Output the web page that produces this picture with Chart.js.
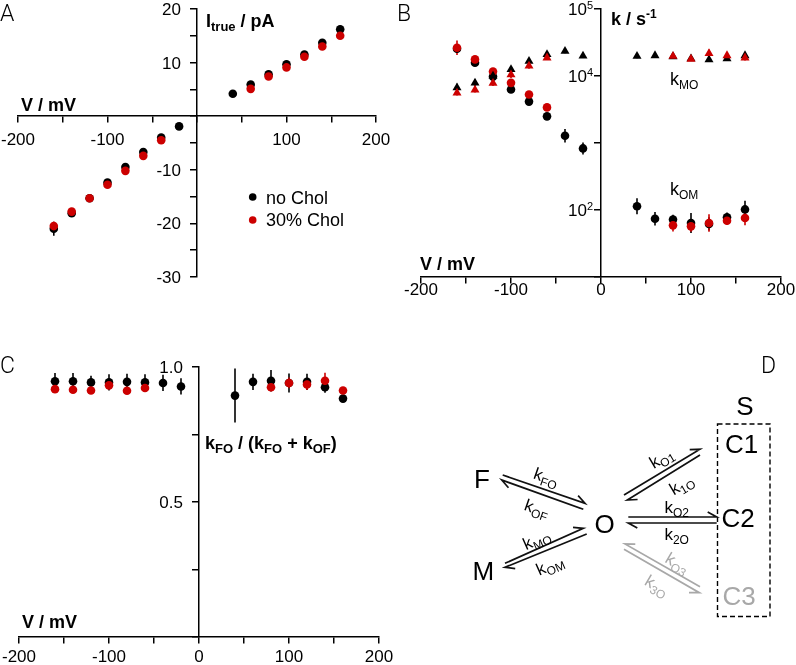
<!DOCTYPE html>
<html><head><meta charset="utf-8">
<script src="https://cdn.jsdelivr.net/npm/chart.js@4.4.1/dist/chart.umd.min.js"></script>
<style>
html,body{margin:0;padding:0;background:#fff;}
#wrap{position:relative;width:796px;height:665px;overflow:hidden;background:#fff;}
canvas{position:absolute;}
svg{position:absolute;left:0;top:0;}
</style></head><body>
<div id="wrap">
<canvas id="cA" width="398" height="320" style="left:0;top:0"></canvas>
<canvas id="cB" width="398" height="320" style="left:398px;top:0"></canvas>
<canvas id="cC" width="398" height="345" style="left:0;top:320px"></canvas>
<svg id="sD" width="796" height="665" xmlns="http://www.w3.org/2000/svg"></svg>
</div>
<script>
// ---------------- DATA ----------------
// Panel A: I_true (pA) vs V (mV)
const vA_noChol = [-160,-140,-120,-100,-80,-60,-40,-20,40,60,80,100,120,140,160];
const iA_noChol = [-21.0,-18.1,-15.3,-12.4,-9.5,-6.7,-4.0,-1.9,4.2,5.9,7.8,9.7,11.5,13.7,16.2];
const eA_noChol = [1.3,0.5,0.4,0.4,0.5,0.4,0.4,0.3,0.3,0.4,0.4,0.4,0.5,0.6,0.7];
const vA_chol = [-160,-140,-120,-100,-80,-60,-40,60,80,100,120,140,160];
const iA_chol = [-20.5,-17.8,-15.3,-12.8,-10.2,-7.4,-4.5,5.1,7.4,9.1,11.1,13.0,15.0];
const eA_chol = [0.8,0.5,0.4,0.4,0.5,0.4,0.3,0.3,0.4,0.4,0.4,0.5,0.5];

// Panel B: rate constants (s^-1) vs V (mV); errors in decades
const vB_noChol = [-160,-140,-120,-100,-80,-60,-40,-20,40,60,80,100,120,140,160];
const kOM_noChol = [25500,15800,9800,6300,4150,2500,1280,830,114,74,72,64,62,78,102];
const eOM_noChol = [0.06,0.05,0.04,0.04,0.04,0.05,0.10,0.09,0.12,0.10,0.07,0.15,0.10,0.07,0.13];
const kMO_noChol = [6700,7900,10000,12500,16700,21000,23500,19900,19800,20200,19500,18100,17500,18100,20200];
const eMO_noChol = [0.06,0.05,0.04,0.04,0.04,0.03,0.03,0.03,0.03,0.03,0.03,0.03,0.03,0.03,0.03];
const vB_chol = [-160,-140,-120,-100,-80,-60,80,100,120,140,160];
const kOM_chol = [26400,17700,11700,7900,5300,3400,59,57,64,69,76];
const eOM_chol = [0.11,0.05,0.05,0.05,0.04,0.04,0.09,0.08,0.13,0.06,0.11];
const kMO_chol = [5600,6200,7800,10500,14100,18700,19800,17900,21700,20200,18700];
const eMO_chol = [0.04,0.04,0.04,0.05,0.04,0.03,0.03,0.03,0.06,0.04,0.04];

// Panel C: kFO/(kFO+kOF) vs V (mV)
const vC_noChol = [-160,-140,-120,-100,-80,-60,-40,-20,40,60,80,100,120,140,160];
const fC_noChol = [0.947,0.947,0.943,0.943,0.945,0.943,0.941,0.928,0.894,0.945,0.949,0.941,0.945,0.925,0.883];
const eC_noChol = [0.031,0.031,0.025,0.03,0.03,0.03,0.03,0.03,0.10,0.03,0.04,0.035,0.03,0.02,0.01];
const vC_chol = [-160,-140,-120,-100,-80,-60,80,100,120,140,160];
const fC_chol = [0.918,0.916,0.913,0.932,0.912,0.922,0.925,0.941,0.935,0.949,0.913];
const eC_chol = [0.012,0.01,0.01,0.012,0.01,0.01,0.015,0.02,0.02,0.03,0.012];

// Tick labels
const xTickLabelsA = [-200,-100,100,200];
const yTickLabelsA = [20,10,-10,-20,-30];
const xTickLabelsBC = [-200,-100,0,100,200];
const yTickExpB = [5,4,2];
const yTickLabelsC = [1.0,0.5];
const seriesNames = ['no Chol','30% Chol'];

// ---------------- STYLE / HELPERS ----------------
const BLACK = '#000000', RED = '#cc0000', GRAY = '#a8a8a8';
const FAM = '"Liberation Sans", Arial, Helvetica, sans-serif';

function pts(xs, ys){ return xs.map((x,i)=>({x:x, y:ys[i]})); }

function drawRich(ctx, x, y, parts, size, bold, color, align, subSize){
  const w = bold ? 'bold ' : '';
  const small = subSize || Math.round(size*0.68);
  let total = 0;
  const segs = parts.map(([t,k]) => {
    const fs = k === 'n' ? size : small;
    ctx.font = w + fs + 'px ' + FAM;
    const wd = ctx.measureText(t).width;
    total += wd;
    return {t, k, fs, wd};
  });
  let cx = align === 'right' ? x - total : (align === 'center' ? x - total/2 : x);
  ctx.save();
  ctx.fillStyle = color; ctx.textBaseline = 'alphabetic'; ctx.textAlign = 'left';
  for (const s of segs){
    ctx.font = w + s.fs + 'px ' + FAM;
    const dy = s.k === 'sub' ? size*0.22 : (s.k === 'sup' ? -size*0.38 : 0);
    ctx.fillText(s.t, cx, y + dy);
    cx += s.wd;
  }
  ctx.restore();
}

const errBars = {
  id:'errBars',
  beforeDatasetsDraw(chart){
    const ctx = chart.ctx, ys = chart.scales.y;
    for (let i = chart.data.datasets.length-1; i >= 0; i--){
      const ds = chart.data.datasets[i];
      if (!ds.errs) continue;
      const meta = chart.getDatasetMeta(i);
      ctx.save(); ctx.strokeStyle = ds.backgroundColor; ctx.lineWidth = 1.6;
      meta.data.forEach((pt, j) => {
        const v = ds.data[j].y, e = ds.errs[j];
        let lo, hi;
        if (ds.logErr){ lo = v/Math.pow(10,e); hi = v*Math.pow(10,e); } else { lo = v-e; hi = v+e; }
        ctx.beginPath();
        ctx.moveTo(pt.x, ys.getPixelForValue(hi));
        ctx.lineTo(pt.x, ys.getPixelForValue(lo));
        ctx.stroke();
      });
      ctx.restore();
    }
  }
};

function annotPlugin(fn){ return { id:'annot'+Math.random().toString(36).slice(2), afterDraw(chart){ fn(chart, chart.ctx); } }; }

function axisOpts(extra){
  return Object.assign({
    ticks:{display:false, autoSkip:false},
    grid:{drawOnChartArea:false, drawTicks:true, tickLength:6, color:BLACK, lineWidth:1.5},
    border:{display:true, color:BLACK, width:1.5}
  }, extra);
}

function dset(label, data, errs, color, style, order, logErr){
  return {label, data, errs, logErr: !!logErr, backgroundColor: color, borderColor: color,
    pointBackgroundColor: color, pointBorderWidth: 0, pointStyle: style,
    pointRadius: style === 'triangle' ? 5.2 : 4.3, order, showLine:false};
}

const common = {responsive:false, animation:false, events:[], plugins:{legend:{display:false}, tooltip:{enabled:false}}};

function tickLabelsX(ctx, chart, vals, baseline){
  const xs = chart.scales.x;
  ctx.save(); ctx.font = '17px ' + FAM; ctx.fillStyle = BLACK; ctx.textAlign = 'center'; ctx.textBaseline = 'alphabetic';
  vals.forEach(v => ctx.fillText(String(v), xs.getPixelForValue(v), baseline));
  ctx.restore();
}
function tickLabelsY(ctx, chart, vals, right, fmt){
  const ys = chart.scales.y;
  ctx.save(); ctx.font = '17px ' + FAM; ctx.fillStyle = BLACK; ctx.textAlign = 'right'; ctx.textBaseline = 'alphabetic';
  vals.forEach(v => ctx.fillText(fmt ? fmt(v) : String(v), right, ys.getPixelForValue(v) + 6));
  ctx.restore();
}

// ---------------- PANEL A ----------------
new Chart(document.getElementById('cA'), {
  type:'scatter',
  data:{datasets:[
    dset(seriesNames[1], pts(vA_chol, iA_chol), eA_chol, RED, 'circle', 0),
    dset(seriesNames[0], pts(vA_noChol, iA_noChol), eA_noChol, BLACK, 'circle', 1)
  ]},
  options:Object.assign({}, common, {
    layout:{padding:{left:18, right:22, top:9, bottom:43}},
    scales:{
      x: axisOpts({type:'linear', min:-200, max:200, position:{y:0}, ticks:{display:false, stepSize:50, autoSkip:false}}),
      y: axisOpts({type:'linear', min:-30, max:20, position:{x:0}, ticks:{display:false, stepSize:5, autoSkip:false}})
    }
  }),
  plugins:[errBars, annotPlugin((chart, ctx) => {
    tickLabelsX(ctx, chart, xTickLabelsA, 145);
    tickLabelsY(ctx, chart, yTickLabelsA, 181);
    drawRich(ctx, 206, 27, [['I','n'],['true','sub'],[' / pA','n']], 18, true, BLACK, 'left', 13);
    drawRich(ctx, 21, 111, [['V / mV','n']], 18, true, BLACK, 'left');
    // legend
    [[BLACK, 197, seriesNames[0], 204],[RED, 220, seriesNames[1], 226]].forEach(([c, cy, t, by]) => {
      ctx.save(); ctx.fillStyle = c; ctx.beginPath(); ctx.arc(252.7, cy, 3.8, 0, Math.PI*2); ctx.fill(); ctx.restore();
      drawRich(ctx, 266, by, [[t,'n']], 18, false, BLACK, 'left');
    });
  })]
});

// ---------------- PANEL B ----------------
new Chart(document.getElementById('cB'), {
  type:'scatter',
  data:{datasets:[
    dset('kMO '+seriesNames[1], pts(vB_chol, kMO_chol), eMO_chol, RED, 'triangle', 0, true),
    dset('kMO '+seriesNames[0], pts(vB_noChol, kMO_noChol), eMO_noChol, BLACK, 'triangle', 1, true),
    dset('kOM '+seriesNames[1], pts(vB_chol, kOM_chol), eOM_chol, RED, 'circle', 2, true),
    dset('kOM '+seriesNames[0], pts(vB_noChol, kOM_noChol), eOM_noChol, BLACK, 'circle', 3, true)
  ]},
  options:Object.assign({}, common, {
    layout:{padding:{left:23, right:15, top:9, bottom:43}},
    scales:{
      x: axisOpts({type:'linear', min:-200, max:200, position:{y:10}, ticks:{display:false, stepSize:50, autoSkip:false}}),
      y: axisOpts({type:'logarithmic', min:10, max:100000, position:{x:0},
        afterBuildTicks:(s)=>{ s.ticks = [10,100,1000,10000,100000].map(v=>({value:v})); }})
    }
  }),
  plugins:[errBars, annotPlugin((chart, ctx) => {
    tickLabelsX(ctx, chart, xTickLabelsBC, 295);
    const ys = chart.scales.y;
    yTickExpB.forEach(e => {
      drawRich(ctx, 195, ys.getPixelForValue(Math.pow(10,e)) + 6, [['10','n'],[String(e),'sup']], 17, false, BLACK, 'right', 11);
    });
    drawRich(ctx, 213, 25, [['k / s','n'],['-1','sup']], 18, true, BLACK, 'left', 12);
    drawRich(ctx, 22, 270, [['V / mV','n']], 18, true, BLACK, 'left');
    drawRich(ctx, 272, 85, [['k','n'],['MO','sub']], 18, false, BLACK, 'left', 12);
    drawRich(ctx, 272, 195, [['k','n'],['OM','sub']], 18, false, BLACK, 'left', 12);
  })]
});

// ---------------- PANEL C ----------------
new Chart(document.getElementById('cC'), {
  type:'scatter',
  data:{datasets:[
    dset(seriesNames[1], pts(vC_chol, fC_chol), eC_chol, RED, 'circle', 0),
    dset(seriesNames[0], pts(vC_noChol, fC_noChol), eC_noChol, BLACK, 'circle', 1)
  ]},
  options:Object.assign({}, common, {
    layout:{padding:{left:19, right:19, top:47, bottom:28}},
    scales:{
      x: axisOpts({type:'linear', min:-200, max:200, position:{y:0}, ticks:{display:false, stepSize:50, autoSkip:false}}),
      y: axisOpts({type:'linear', min:0, max:1, position:{x:0}, ticks:{display:false, stepSize:0.25, autoSkip:false}})
    }
  }),
  plugins:[errBars, annotPlugin((chart, ctx) => {
    tickLabelsX(ctx, chart, xTickLabelsBC, 342);
    tickLabelsY(ctx, chart, yTickLabelsC, 183, v => v.toFixed(1));
    drawRich(ctx, 205, 129, [['k','n'],['FO','sub'],[' / (k','n'],['FO','sub'],[' + k','n'],['OF','sub'],[')','n']], 18, true, BLACK, 'left', 13);
    drawRich(ctx, 22, 308, [['V / mV','n']], 18, true, BLACK, 'left');
  })]
});

// ---------------- PANEL D (scheme) + panel letters ----------------
(function(){
  const svg = document.getElementById('sD');
  const NS = 'http://www.w3.org/2000/svg';
  function el(tag, attrs, parent){ const e = document.createElementNS(NS, tag); for (const k in attrs) e.setAttribute(k, attrs[k]); (parent||svg).appendChild(e); return e; }
  // panel letters
  const LF = 'Roboto, "Open Sans", Lato, sans-serif';
  [['A',0,21],['B',397,21],['C',0,373],['D',761,373]].forEach(([t,x,y]) => {
    const e = el('text', {x, y, 'font-family':LF, 'font-weight':'300', 'font-size':'23', fill:'#000'}); e.textContent = t;
  });
  // state letters
  const BF = "'Liberation Sans', Arial, sans-serif";
  [['S',745,415,'middle','#000'],['C1',725,453,'start','#000'],['C2',721.5,527,'start','#000'],['C3',722.5,605,'start',GRAY],
   ['O',604.5,533,'middle','#000'],['F',474,488,'start','#000'],['M',472.5,580,'start','#000']].forEach(([t,x,y,a,c]) => {
    const e = el('text', {x, y, 'font-family':BF, 'font-size':'26', 'text-anchor':a, fill:c}); e.textContent = t;
  });
  // dashed box
  el('rect', {x:717.5, y:424, width:52.5, height:192.5, fill:'none', stroke:'#000', 'stroke-width':1.4, 'stroke-dasharray':'5,3'});
  // harpoon pairs
  function harpoon(P, Q, other, color){
    const dx = Q[0]-P[0], dy = Q[1]-P[1], L = Math.hypot(dx,dy);
    const ux = dx/L, uy = dy/L;
    let nx = -uy, ny = ux;
    const mx = (P[0]+Q[0])/2, my = (P[1]+Q[1])/2;
    const ox = (other[0][0]+other[1][0])/2, oy = (other[0][1]+other[1][1])/2;
    if (nx*(mx-ox) + ny*(my-oy) < 0){ nx = -nx; ny = -ny; }
    const bx = Q[0] - ux*9 + nx*5, by = Q[1] - uy*9 + ny*5;
    el('path', {d:`M${P[0]},${P[1]} L${Q[0]},${Q[1]} L${bx},${by}`, fill:'none', stroke:color, 'stroke-width':1.7, 'stroke-linejoin':'miter', 'stroke-linecap':'butt'});
  }
  const pairs = [
    [[[502.7,475],[585,503.3]], [[583.3,509.3],[501.7,480]], '#111'],
    [[[505,563.3],[583.3,528.3]], [[586.7,534],[505,567.3]], '#111'],
    [[[624,495],[700,449.3]], [[700,455],[627.3,500]], '#111'],
    [[[628.3,517],[716.7,517]], [[716.7,523],[628.3,523]], '#111'],
    [[[700,586.7],[625,544]], [[624,549.3],[699.3,592.7]], GRAY]
  ];
  pairs.forEach(([a,b,c]) => { harpoon(a[0], a[1], b, c); harpoon(b[0], b[1], a, c); });
  // rate labels
  const labs = [
    ['FO',546,477.5,19,'#000'],['OF',536.7,509,19,'#000'],
    ['MO',536.7,540,-24,'#000'],['OM',550,565.5,-24,'#000'],
    ['O1',661.7,458.3,-31,'#000'],['1O',681.7,485,-31,'#000'],
    ['O2',676.7,508.3,0,'#000'],['2O',676.7,535,0,'#000'],
    ['O3',677,563.5,30,GRAY],['3O',656.5,586,30,GRAY]
  ];
  labs.forEach(([s,cx,cy,rot,c]) => {
    const t = el('text', {x:cx, y:cy+5, 'font-family':BF, 'font-size':'17', 'text-anchor':'middle', fill:c, transform:`rotate(${rot} ${cx} ${cy})`});
    const t1 = el('tspan', {}, t); t1.textContent = 'k';
    const t2 = el('tspan', {dy:'4', 'font-size':'12'}, t); t2.textContent = s;
  });
})();
</script>
</body></html>
